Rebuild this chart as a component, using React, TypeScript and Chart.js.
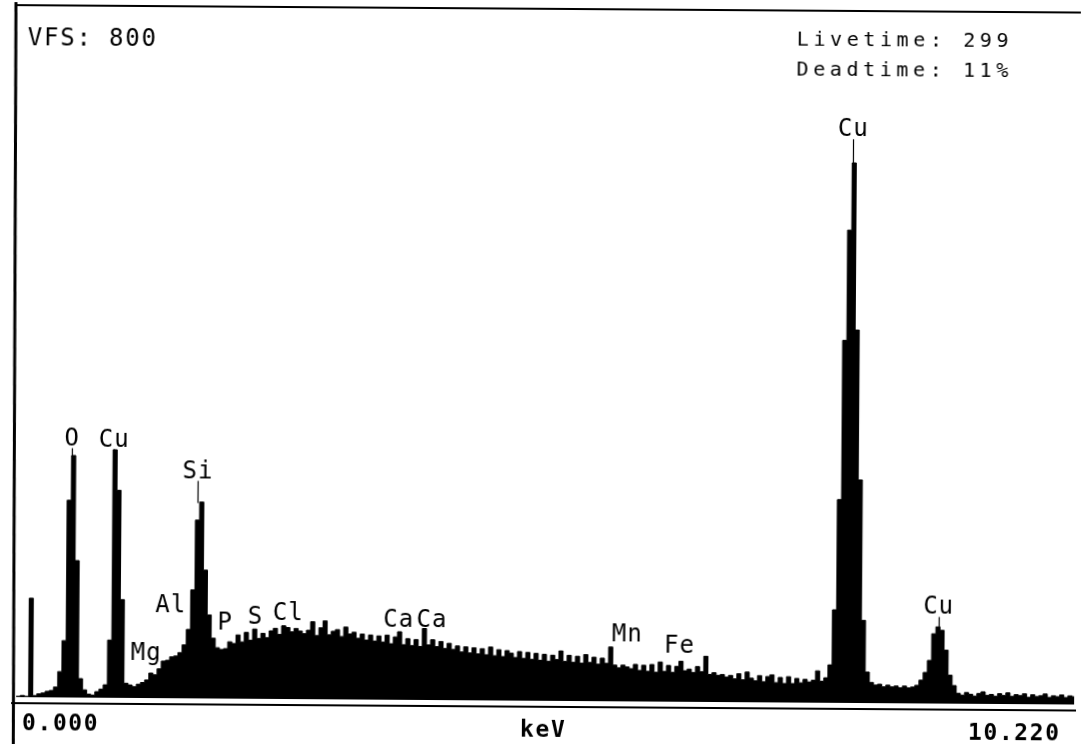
import React, { useEffect, useRef } from 'react';
import { Chart, registerables } from 'chart.js';

Chart.register(...registerables);

// ---- data ----
const channelWidthKeV = 0.04;
const energyMaxKeV = 10.22;
const fullScaleCounts = 800;

// counts per 0.04 keV channel, channel 0 starts at 0.000 keV
const counts = [
  1, 2, 1, 115, 2, 4, 5, 7, 8, 12,
  30, 66, 229, 281, 159, 22, 9, 4, 3, 7,
  10, 15, 67, 288, 241, 114, 17, 15, 13, 16,
  18, 21, 29, 27, 34, 43, 44, 48, 49, 53,
  62, 80, 126, 207, 228, 149, 97, 70, 59, 57,
  58, 66, 64, 74, 66, 77, 68, 81, 70, 76,
  71, 79, 82, 75, 85, 83, 78, 82, 79, 76,
  80, 90, 74, 83, 91, 75, 79, 81, 73, 84,
  76, 78, 71, 76, 69, 75, 68, 74, 67, 75,
  65, 73, 79, 64, 71, 63, 70, 62, 83, 64,
  70, 62, 68, 60, 66, 59, 63, 56, 62, 55,
  61, 54, 60, 53, 62, 52, 59, 51, 58, 55,
  50, 57, 49, 56, 48, 55, 47, 54, 46, 53,
  48, 58, 46, 53, 45, 52, 44, 54, 45, 51,
  43, 50, 44, 63, 42, 39, 42, 40, 38, 43,
  36, 42, 35, 43, 34, 46, 35, 42, 34, 41,
  47, 36, 38, 34, 41, 35, 53, 32, 34, 31,
  32, 29, 31, 27, 33, 26, 35, 28, 25, 31,
  24, 30, 32, 23, 29, 22, 30, 22, 28, 23,
  27, 24, 26, 37, 25, 29, 44, 108, 236, 421,
  549, 627, 433, 259, 96, 36, 24, 21, 22, 19,
  21, 19, 20, 18, 20, 18, 19, 21, 27, 36,
  50, 81, 89, 85, 62, 33, 21, 12, 10, 13,
  11, 9, 12, 14, 10, 11, 9, 12, 10, 13,
  9, 11, 10, 12, 8, 11, 9, 10, 12, 8,
  10, 9, 11, 8, 10, 9,
];

const peakLabels = ['O', 'Cu', 'Mg', 'Al', 'Si', 'P', 'S', 'Cl', 'Ca', 'Ca', 'Mn', 'Fe', 'Cu', 'Cu'];
const peakEnergies = [0.525, 0.93, 1.254, 1.487, 1.74, 2.013, 2.307, 2.622, 3.69, 4.01, 5.899, 6.404, 8.048, 8.905];
const labelCounts = [293, 292, 44, 100, 256, 80, 87, 92, 85, 85, 70, 57, 658, 104];
const peakMarkers = [true, true, false, false, true, false, false, false, false, false, false, false, true, true];

const headerLeft = 'VFS: 800';
const headerRight = ['Livetime: 299', 'Deadtime: 11%'];
const axisStartLabel = '0.000';
const axisUnitLabel = 'keV';
const axisEndLabel = '10.220';

const MONO = '"DejaVu Sans Mono", "Liberation Mono", monospace';

const overlayPlugin = {
  id: 'edsOverlay',
  afterDatasetsDraw(chart: any) {
    const ctx: CanvasRenderingContext2D = chart.ctx;
    const xs = chart.scales.x;
    const ys = chart.scales.y;
    ctx.save();
    ctx.strokeStyle = '#000';
    ctx.fillStyle = '#000';

    // frame
    ctx.lineWidth = 3;
    ctx.beginPath();
    ctx.moveTo(16, 2);
    ctx.lineTo(18.5, 744);
    ctx.stroke();
    ctx.lineWidth = 2;
    ctx.beginPath();
    ctx.moveTo(15, 5);
    ctx.lineTo(1081, 5);
    ctx.stroke();
    ctx.beginPath();
    ctx.moveTo(16, 703);
    ctx.lineTo(1081, 703);
    ctx.stroke();

    // header texts
    ctx.textBaseline = 'alphabetic';
    ctx.textAlign = 'left';
    ctx.font = `24px ${MONO}`;
    (ctx as any).letterSpacing = '1.8px';
    ctx.fillText(headerLeft, 28, 45);
    ctx.font = `20px ${MONO}`;
    (ctx as any).letterSpacing = '4.6px';
    ctx.fillText(headerRight[0], 797, 40);
    ctx.fillText(headerRight[1], 797, 70);

    // peak labels + marker lines
    ctx.font = `24px ${MONO}`;
    (ctx as any).letterSpacing = '1px';
    ctx.textAlign = 'center';
    peakLabels.forEach((lab, i) => {
      const px = xs.getPixelForValue(peakEnergies[i]);
      const py = ys.getPixelForValue(labelCounts[i]);
      ctx.fillText(lab, px, py);
      if (peakMarkers[i]) {
        const ch = Math.floor(peakEnergies[i] / channelWidthKeV);
        let m = 0;
        for (let k = ch - 1; k <= ch + 1; k++) {
          if (k >= 0 && k < counts.length) m = Math.max(m, counts[k]);
        }
        const top = py + 3;
        const bottom = ys.getPixelForValue(m);
        if (bottom > top) {
          ctx.lineWidth = 1.2;
          ctx.beginPath();
          ctx.moveTo(Math.round(px) + 0.5, top);
          ctx.lineTo(Math.round(px) + 0.5, bottom + 1);
          ctx.stroke();
        }
      }
    });

    // bottom axis texts
    ctx.textAlign = 'left';
    ctx.font = `bold 23px ${MONO}`;
    (ctx as any).letterSpacing = '1.6px';
    ctx.fillText(axisStartLabel, 27, 730);
    ctx.fillText(axisUnitLabel, 525, 733);
    ctx.fillText(axisEndLabel, 973, 733);
    ctx.restore();
  },
};

export default function App() {
  const ref = useRef<HTMLCanvasElement>(null);

  useEffect(() => {
    document.body.style.margin = '0';
    const points = counts.map((c, i) => ({ x: i * channelWidthKeV, y: c }));
    points.push({ x: counts.length * channelWidthKeV, y: counts[counts.length - 1] });

    const chart = new Chart(ref.current as HTMLCanvasElement, {
      type: 'line',
      data: {
        datasets: [
          {
            data: points,
            stepped: true,
            fill: 'origin',
            backgroundColor: '#000',
            borderColor: '#000',
            borderWidth: 1,
            pointRadius: 0,
          },
        ],
      },
      options: {
        responsive: false,
        maintainAspectRatio: false,
        animation: false,
        layout: { padding: { left: 21, right: 2, top: 8, bottom: 47 } },
        scales: {
          x: { type: 'linear', min: 0, max: energyMaxKeV, display: false },
          y: { min: 0, max: fullScaleCounts, display: false },
        },
        plugins: {
          legend: { display: false },
          tooltip: { enabled: false },
        },
      },
      plugins: [overlayPlugin],
    } as any);

    return () => chart.destroy();
  }, []);

  return (
    <div
      style={{
        position: 'fixed',
        left: 0,
        top: 0,
        width: 1081,
        height: 744,
        overflow: 'hidden',
        background: '#fff',
      }}
    >
      <canvas
        ref={ref}
        width={1081}
        height={744}
        style={{ display: 'block', transform: 'rotate(0.4deg)', transformOrigin: '0 0' }}
      />
    </div>
  );
}
